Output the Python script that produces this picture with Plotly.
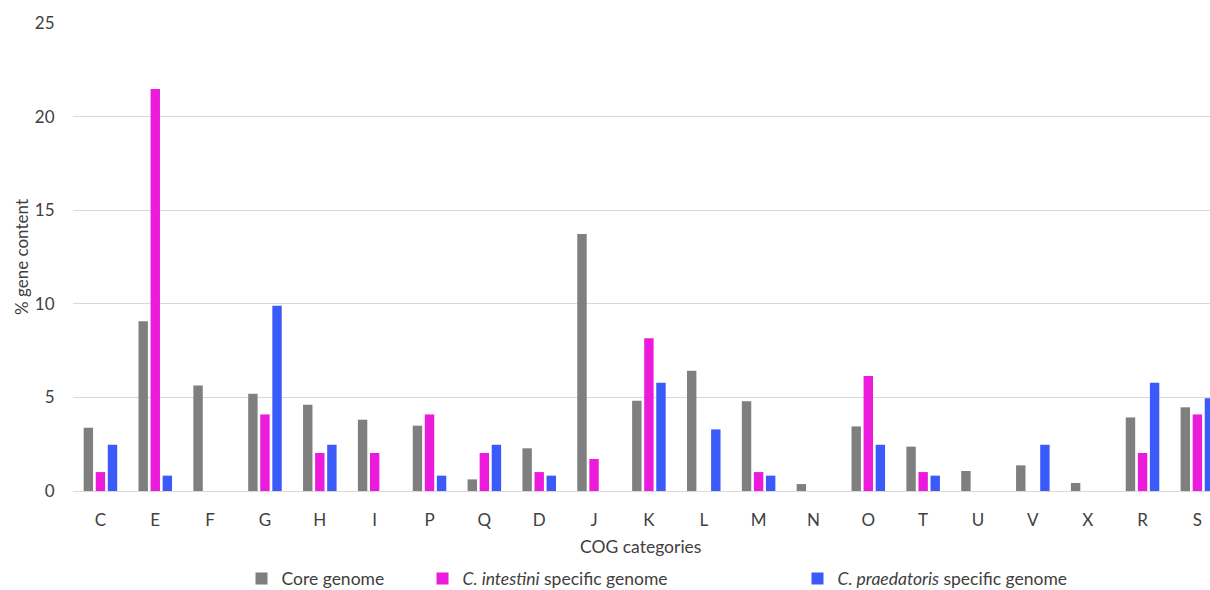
import plotly.graph_objects as go

categories = ["C", "E", "F", "G", "H", "I", "P", "Q", "D", "J", "K", "L", "M", "N", "O", "T", "U", "V", "X", "R", "S"]
core = [3.38, 9.07, 5.64, 5.20, 4.61, 3.81, 3.49, 0.62, 2.28, 13.73, 4.82, 6.42, 4.80, 0.37, 3.45, 2.37, 1.07, 1.37, 0.43, 3.93, 4.47]
intestini = [1.01, 21.48, 0, 4.09, 2.03, 2.03, 4.09, 2.03, 1.01, 1.71, 8.16, 0, 1.01, 0, 6.14, 1.01, 0, 0, 0, 2.03, 4.09]
praedatoris = [2.47, 0.82, 0, 9.89, 2.47, 0, 0.82, 2.47, 0.82, 0, 5.78, 3.29, 0.82, 0, 2.47, 0.82, 0, 2.47, 0, 5.78, 4.95]

names = ["Core genome", "<i>C. intestini</i> specific genome", "<i>C. praedatoris</i> specific genome"]
colors = ["#7F7F7F", "#EC1ADB", "#3A5BFA"]
series = [core, intestini, praedatoris]
legends = ["legend2", "legend3", "legend4"]
legend_x = [0.1482, 0.3074, 0.6372]

FONT = "Lato, 'Open Sans', sans-serif"
TXT = "#404040"

fig = go.Figure()
for nm, vals, c, lg in zip(names, series, colors, legends):
    fig.add_trace(go.Bar(x=categories, y=vals, name=nm, marker=dict(color=c, line=dict(width=0)),
                         legend=lg))

legend_common = dict(orientation="h", y=-0.1486, xanchor="left", yanchor="top",
                     font=dict(size=17.5, color=TXT), itemwidth=30, bgcolor="rgba(0,0,0,0)")

fig.update_layout(
    width=1210, height=590,
    margin=dict(l=73, r=0, t=23, b=99, autoexpand=False),
    plot_bgcolor="white", paper_bgcolor="white",
    barmode="group", bargap=0.34, bargroupgap=0.22,
    font=dict(family=FONT, size=17, color=TXT),
    xaxis=dict(range=[-0.5, 20.23], showgrid=False, showline=False, ticks="outside", ticklen=14,
               tickcolor="rgba(0,0,0,0)", tickfont=dict(size=17, color=TXT), automargin=False),
    yaxis=dict(range=[0, 25], tickvals=[0, 5, 10, 15, 20, 25], showgrid=True, gridcolor="#D9D9D9",
               gridwidth=1, zeroline=True, zerolinecolor="#D9D9D9", zerolinewidth=1,
               ticks="outside", ticklen=14, tickcolor="rgba(0,0,0,0)",
               tickfont=dict(size=17, color=TXT), automargin=False,
               title=dict(text="% gene content", font=dict(size=17, color=TXT), standoff=1)),
    legend2=dict(x=legend_x[0], **legend_common),
    legend3=dict(x=legend_x[1], **legend_common),
    legend4=dict(x=legend_x[2], **legend_common),
    annotations=[dict(text="COG categories", x=(640 - 73) / 1137, xref="paper", y=-0.118, yref="paper",
                      xanchor="center", yanchor="middle", showarrow=False,
                      font=dict(size=17.5, color=TXT))],
)

fig.write_html("out.html", config={"displayModeBar": False},
               post_script="document.body.style.margin='0';")
